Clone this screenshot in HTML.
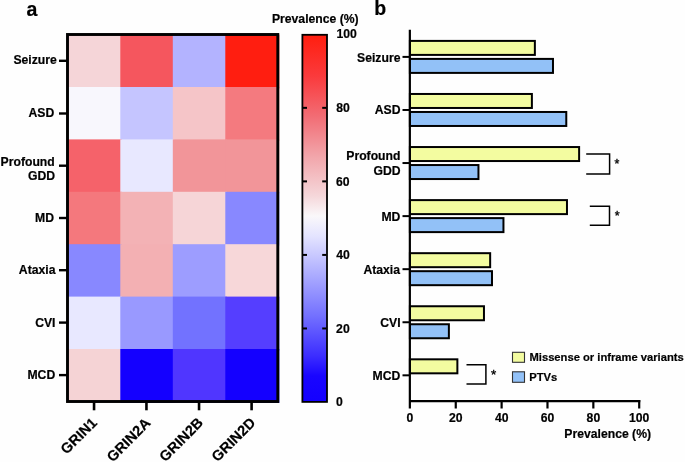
<!DOCTYPE html>
<html><head><meta charset="utf-8"><style>
html,body{margin:0;padding:0;background:#fefefe;}
body{width:685px;height:462px;overflow:hidden;font-family:"Liberation Sans",sans-serif;}
svg{display:block;will-change:transform;}
text{font-family:"Liberation Sans",sans-serif;font-weight:bold;fill:#000;stroke:#000;stroke-width:0.2px;}
text.r{font-weight:normal;stroke-width:0.35px;}
</style></head><body>
<svg width="685" height="462" viewBox="0 0 685 462">
<defs>
<linearGradient id="cb" x1="0" y1="0" x2="0" y2="1">
<stop offset="0.0005" stop-color="#ff1e0f"/>
<stop offset="0.1122" stop-color="#fa3a3c"/>
<stop offset="0.2212" stop-color="#f26c74"/>
<stop offset="0.3302" stop-color="#f2a5aa"/>
<stop offset="0.4391" stop-color="#f5d7da"/>
<stop offset="0.4936" stop-color="#faf8fa"/>
<stop offset="0.5481" stop-color="#e4e4ff"/>
<stop offset="0.6570" stop-color="#aaaaff"/>
<stop offset="0.7660" stop-color="#7370ff"/>
<stop offset="0.8750" stop-color="#3c2dff"/>
<stop offset="0.9294" stop-color="#1905ff"/>
<stop offset="0.9975" stop-color="#1400ff"/>
</linearGradient>
</defs>

<rect x="67.80" y="34.60" width="54.00" height="53.90" fill="#f5d5d8"/>
<rect x="120.30" y="34.60" width="54.00" height="53.90" fill="#f5565e"/>
<rect x="172.80" y="34.60" width="54.00" height="53.90" fill="#b3b3ff"/>
<rect x="225.30" y="34.60" width="54.00" height="53.90" fill="#ff1e10"/>
<rect x="67.80" y="87.00" width="54.00" height="53.90" fill="#f8f7fd"/>
<rect x="120.30" y="87.00" width="54.00" height="53.90" fill="#c5c5ff"/>
<rect x="172.80" y="87.00" width="54.00" height="53.90" fill="#f5c5c8"/>
<rect x="225.30" y="87.00" width="54.00" height="53.90" fill="#f47a7f"/>
<rect x="67.80" y="139.40" width="54.00" height="53.90" fill="#f5626a"/>
<rect x="120.30" y="139.40" width="54.00" height="53.90" fill="#e8e8ff"/>
<rect x="172.80" y="139.40" width="54.00" height="53.90" fill="#f29599"/>
<rect x="225.30" y="139.40" width="54.00" height="53.90" fill="#f29599"/>
<rect x="67.80" y="191.80" width="54.00" height="53.90" fill="#f4787d"/>
<rect x="120.30" y="191.80" width="54.00" height="53.90" fill="#f3b2b5"/>
<rect x="172.80" y="191.80" width="54.00" height="53.90" fill="#f6d5d7"/>
<rect x="225.30" y="191.80" width="54.00" height="53.90" fill="#8888ff"/>
<rect x="67.80" y="244.20" width="54.00" height="53.90" fill="#8888ff"/>
<rect x="120.30" y="244.20" width="54.00" height="53.90" fill="#f3b0b3"/>
<rect x="172.80" y="244.20" width="54.00" height="53.90" fill="#9d9dff"/>
<rect x="225.30" y="244.20" width="54.00" height="53.90" fill="#f7d7d9"/>
<rect x="67.80" y="296.60" width="54.00" height="53.90" fill="#e8e8ff"/>
<rect x="120.30" y="296.60" width="54.00" height="53.90" fill="#9999ff"/>
<rect x="172.80" y="296.60" width="54.00" height="53.90" fill="#7272ff"/>
<rect x="225.30" y="296.60" width="54.00" height="53.90" fill="#553eff"/>
<rect x="67.80" y="349.00" width="54.00" height="53.90" fill="#f5d3d5"/>
<rect x="120.30" y="349.00" width="54.00" height="53.90" fill="#1400ff"/>
<rect x="172.80" y="349.00" width="54.00" height="53.90" fill="#5036ff"/>
<rect x="225.30" y="349.00" width="54.00" height="53.90" fill="#1400ff"/>
<rect x="67.5" y="34.5" width="210.3" height="367" fill="none" stroke="#000" stroke-width="2.9"/>
<line x1="59" x2="67" y1="60.80" y2="60.80" stroke="#000" stroke-width="2.4"/>
<line x1="59" x2="67" y1="113.50" y2="113.50" stroke="#000" stroke-width="2.4"/>
<line x1="59" x2="67" y1="165.70" y2="165.70" stroke="#000" stroke-width="2.4"/>
<line x1="59" x2="67" y1="218.00" y2="218.00" stroke="#000" stroke-width="2.4"/>
<line x1="59" x2="67" y1="270.20" y2="270.20" stroke="#000" stroke-width="2.4"/>
<line x1="59" x2="67" y1="322.60" y2="322.60" stroke="#000" stroke-width="2.4"/>
<line x1="59" x2="67" y1="375.10" y2="375.10" stroke="#000" stroke-width="2.4"/>
<text x="13.38" y="63.80" font-size="12.2">Seizure</text>
<text x="28.52" y="116.57" font-size="12.2">ASD</text>
<text x="0.59" y="165.50" font-size="12.2">Profound</text>
<text x="27.91" y="180.29" font-size="12.2">GDD</text>
<text x="35.06" y="222.47" font-size="12.2">MD</text>
<text x="18.85" y="273.56" font-size="12.2">Ataxia</text>
<text x="35.15" y="327.39" font-size="12.2">CVI</text>
<text x="27.45" y="379.14" font-size="12.2">MCD</text>
<line x1="94.05" x2="94.05" y1="402" y2="410.3" stroke="#000" stroke-width="2.6"/>
<line x1="146.45" x2="146.45" y1="402" y2="410.3" stroke="#000" stroke-width="2.6"/>
<line x1="199.05" x2="199.05" y1="402" y2="410.3" stroke="#000" stroke-width="2.6"/>
<line x1="251.60" x2="251.60" y1="402" y2="410.3" stroke="#000" stroke-width="2.6"/>
<text transform="translate(97.90,423.70) rotate(-45)" font-size="14.5" text-anchor="end">GRIN1</text>
<text transform="translate(151.40,423.90) rotate(-45)" font-size="14.5" text-anchor="end">GRIN2A</text>
<text transform="translate(204.00,423.70) rotate(-45)" font-size="14.5" text-anchor="end">GRIN2B</text>
<text transform="translate(256.30,423.70) rotate(-45)" font-size="14.5" text-anchor="end">GRIN2D</text>
<rect x="302.4" y="34.8" width="24.6" height="367.1" fill="url(#cb)" stroke="#000" stroke-width="1.8"/>
<line x1="303" x2="307" y1="328.46" y2="328.46" stroke="#000" stroke-width="2"/>
<line x1="322.2" x2="326.5" y1="328.46" y2="328.46" stroke="#000" stroke-width="2"/>
<line x1="303" x2="307" y1="254.92" y2="254.92" stroke="#000" stroke-width="2"/>
<line x1="322.2" x2="326.5" y1="254.92" y2="254.92" stroke="#000" stroke-width="2"/>
<line x1="303" x2="307" y1="181.38" y2="181.38" stroke="#000" stroke-width="2"/>
<line x1="322.2" x2="326.5" y1="181.38" y2="181.38" stroke="#000" stroke-width="2"/>
<line x1="303" x2="307" y1="107.84" y2="107.84" stroke="#000" stroke-width="2"/>
<line x1="322.2" x2="326.5" y1="107.84" y2="107.84" stroke="#000" stroke-width="2"/>
<text x="336.44" y="38.49" font-size="12.2">100</text>
<text x="336.32" y="112.24" font-size="12.2">80</text>
<text x="336.09" y="186.29" font-size="12.2">60</text>
<text x="336.23" y="259.29" font-size="12.2">40</text>
<text x="336.11" y="332.79" font-size="12.2">20</text>
<text x="335.96" y="405.84" font-size="12.2">0</text>
<text x="271.94" y="23.00" font-size="12.2">Prevalence (%)</text>
<text x="26.62" y="15.59" font-size="19.5">a</text>
<text x="374.31" y="15.07" font-size="19.5">b</text>
<rect x="409.90" y="40.90" width="124.97" height="14" fill="#f3fca0" stroke="#000" stroke-width="2"/>
<rect x="409.90" y="58.90" width="143.08" height="14" fill="#92c1f7" stroke="#000" stroke-width="2"/>
<line x1="402.5" x2="410" y1="56.90" y2="56.90" stroke="#000" stroke-width="2"/>
<rect x="409.90" y="93.97" width="121.99" height="14" fill="#f3fca0" stroke="#000" stroke-width="2"/>
<rect x="409.90" y="111.97" width="156.38" height="14" fill="#92c1f7" stroke="#000" stroke-width="2"/>
<line x1="402.5" x2="410" y1="109.97" y2="109.97" stroke="#000" stroke-width="2"/>
<rect x="409.90" y="147.04" width="169.22" height="14" fill="#f3fca0" stroke="#000" stroke-width="2"/>
<rect x="409.90" y="165.04" width="68.56" height="14" fill="#92c1f7" stroke="#000" stroke-width="2"/>
<line x1="402.5" x2="410" y1="163.04" y2="163.04" stroke="#000" stroke-width="2"/>
<rect x="409.90" y="200.11" width="157.07" height="14" fill="#f3fca0" stroke="#000" stroke-width="2"/>
<rect x="409.90" y="218.11" width="93.55" height="14" fill="#92c1f7" stroke="#000" stroke-width="2"/>
<line x1="402.5" x2="410" y1="216.11" y2="216.11" stroke="#000" stroke-width="2"/>
<rect x="409.90" y="253.18" width="80.26" height="14" fill="#f3fca0" stroke="#000" stroke-width="2"/>
<rect x="409.90" y="271.18" width="82.09" height="14" fill="#92c1f7" stroke="#000" stroke-width="2"/>
<line x1="402.5" x2="410" y1="269.18" y2="269.18" stroke="#000" stroke-width="2"/>
<rect x="409.90" y="306.25" width="74.06" height="14" fill="#f3fca0" stroke="#000" stroke-width="2"/>
<rect x="409.90" y="324.25" width="38.98" height="14" fill="#92c1f7" stroke="#000" stroke-width="2"/>
<line x1="402.5" x2="410" y1="322.25" y2="322.25" stroke="#000" stroke-width="2"/>
<rect x="409.90" y="359.32" width="47.47" height="14" fill="#f3fca0" stroke="#000" stroke-width="2"/>
<line x1="402.5" x2="410" y1="375.32" y2="375.32" stroke="#000" stroke-width="2"/>
<text x="357.08" y="61.69" font-size="12.2">Seizure</text>
<text x="374.77" y="114.44" font-size="12.2">ASD</text>
<text x="346.29" y="160.30" font-size="12.2">Profound</text>
<text x="373.41" y="174.59" font-size="12.2">GDD</text>
<text x="381.41" y="220.74" font-size="12.2">MD</text>
<text x="363.45" y="273.81" font-size="12.2">Ataxia</text>
<text x="380.25" y="327.14" font-size="12.2">CVI</text>
<text x="372.50" y="380.04" font-size="12.2">MCD</text>
<line x1="409.85" x2="409.85" y1="29.7" y2="408.5" stroke="#000" stroke-width="2.2"/>
<line x1="409" x2="640.3" y1="401.2" y2="401.2" stroke="#000" stroke-width="2.2"/>
<line x1="455.76" x2="455.76" y1="400" y2="408.5" stroke="#000" stroke-width="2.2"/>
<line x1="501.62" x2="501.62" y1="400" y2="408.5" stroke="#000" stroke-width="2.2"/>
<line x1="547.48" x2="547.48" y1="400" y2="408.5" stroke="#000" stroke-width="2.2"/>
<line x1="593.34" x2="593.34" y1="400" y2="408.5" stroke="#000" stroke-width="2.2"/>
<line x1="639.20" x2="639.20" y1="400" y2="408.5" stroke="#000" stroke-width="2.2"/>
<text x="406.51" y="421.89" font-size="12.2">0</text>
<text x="449.02" y="421.89" font-size="12.2">20</text>
<text x="495.00" y="421.89" font-size="12.2">40</text>
<text x="540.72" y="421.89" font-size="12.2">60</text>
<text x="586.61" y="421.89" font-size="12.2">80</text>
<text x="628.89" y="421.89" font-size="12.2">100</text>
<text x="564.34" y="438.00" font-size="12.2">Prevalence (%)</text>
<path d="M586.2 153.95H609.6V173.95H586.2" fill="none" stroke="#000" stroke-width="1.5"/>
<text x="614.56" y="167.91" font-size="12.5" class="r">*</text>
<path d="M589.8 206.3H609.5V225.3H589.8" fill="none" stroke="#000" stroke-width="1.5"/>
<text x="614.66" y="219.56" font-size="12.5" class="r">*</text>
<path d="M466.5 364.85H485.9V383.9H466.5" fill="none" stroke="#000" stroke-width="1.5"/>
<text x="491.02" y="378.87" font-size="13.5" class="r">*</text>
<rect x="512.5" y="352.3" width="12" height="10" fill="#f3fca0" stroke="#333" stroke-width="1.1"/>
<rect x="512.5" y="371.8" width="12" height="10.5" fill="#92c1f7" stroke="#333" stroke-width="1.1"/>
<text x="529.51" y="360.60" font-size="11.2">Missense or inframe variants</text>
<text x="529.25" y="380.50" font-size="11.2">PTVs</text>
</svg></body></html>
